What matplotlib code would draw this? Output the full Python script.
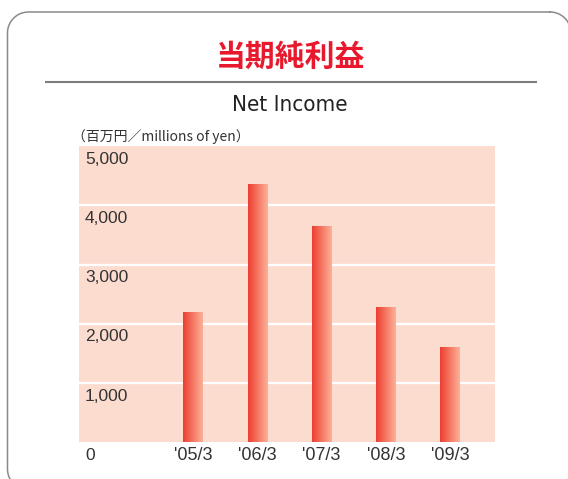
import matplotlib
matplotlib.use("Agg")
import matplotlib.pyplot as plt
import matplotlib.transforms as mtransforms
from matplotlib.colors import LinearSegmentedColormap
import numpy as np

# data
years = ["'05/3", "'06/3", "'07/3", "'08/3", "'09/3"]
net_income = [2200, 4360, 3650, 2290, 1610]
y_ticks = [0, 1000, 2000, 3000, 4000, 5000]
y_tick_labels = ["0", "1,000", "2,000", "3,000", "4,000", "5,000"]

title_jp = "当期純利益"
title_en = "Net Income"
unit_label = "（百万円／millions of yen）"

W, H = 568, 479
fig = plt.figure(figsize=(W / 100, H / 100), dpi=100)

# background layer in pixel units: frame, titles, rule
bg = fig.add_axes([0, 0, 1, 1])
bg.set_xlim(0, W)
bg.set_ylim(H, 0)
bg.axis("off")


def rounded_box(x0, y0, x1, y1, r, n=20):
    # outline of a rounded rectangle, y grows downward
    t = np.linspace(0, np.pi / 2, n)
    xs, ys = [], []
    corners = [(x1 - r, y0 + r, -np.pi / 2), (x1 - r, y1 - r, 0),
               (x0 + r, y1 - r, np.pi / 2), (x0 + r, y0 + r, np.pi)]
    for cx, cy, a in corners:
        xs += list(cx + r * np.cos(a + t))
        ys += list(cy + r * np.sin(a + t))
    xs.append(xs[0])
    ys.append(ys[0])
    return xs, ys


fx, fy = rounded_box(7.5, 12, 571, 490, 21)
bg.plot(fx, fy, color="#8a8a8a", lw=1.1)
bg.plot([45, 537], [82, 82], color="#7d7d7d", lw=1.5, solid_capstyle="butt")

bg.text(291, 57, title_jp, ha="center", va="center", fontsize=21.5,
        fontweight="bold", color="#e8192c",
        family=["Noto Sans CJK JP", "DejaVu Sans"])
bg.text(290, 105, title_en, ha="center", va="center", fontsize=16,
        fontstretch="condensed", color="#222222", family="DejaVu Sans")
bg.text(72, 136.5, unit_label, ha="left", va="center", fontsize=10,
        color="#333333",
        family=["Noto Sans CJK JP", "DejaVu Sans"])
bg.set_xlim(0, W)
bg.set_ylim(H, 0)

# chart area
left, right, top, bottom = 79, 495, 146, 442.3
ax = fig.add_axes([left / W, (H - bottom) / H, (right - left) / W, (bottom - top) / H])
ax.set_facecolor("#fddcd0")
for s in ax.spines.values():
    s.set_visible(False)

x = np.arange(len(years))
step = 64.25
xlim = ((left - 193) / step, (right - 193) / step)
bar_w = 19.5 / step

cmap = LinearSegmentedColormap.from_list("bar", ["#ee3e30", "#fbb198"])
grad = np.linspace(0, 1, 64).reshape(1, -1)

bars = ax.bar(x, net_income, width=bar_w, color="none", edgecolor="none", zorder=3)
for b in bars:
    x0, w, h = b.get_x(), b.get_width(), b.get_height()
    im = ax.imshow(grad, cmap=cmap, aspect="auto", extent=(x0, x0 + w, 0, h),
                   origin="lower", zorder=3, interpolation="bilinear")
    im.set_clip_path(b)

for v in y_ticks[1:-1]:
    ax.axhline(v, color="white", lw=1.6, zorder=2)

ax.set_xlim(*xlim)
ax.set_ylim(0, 5000)
ax.set_yticks([])
ax.set_xticks(x)
ax.set_xticklabels(years, family="Liberation Sans", fontsize=13, color="#333333")
ax.tick_params(axis="x", length=0, pad=3.5)

# y labels sit inside the chart, just under each value line
off = mtransforms.ScaledTranslation(6 / 100, -13 / 100, fig.dpi_scale_trans)
tr = mtransforms.blended_transform_factory(ax.transAxes, ax.transData) + off
for v, lab in zip(y_ticks, y_tick_labels):
    ax.text(0, v, lab, transform=tr, ha="left", va="center", fontsize=12.5,
            family="Liberation Sans", color="#333333", clip_on=False)

fig.savefig("out.png", dpi=100)
